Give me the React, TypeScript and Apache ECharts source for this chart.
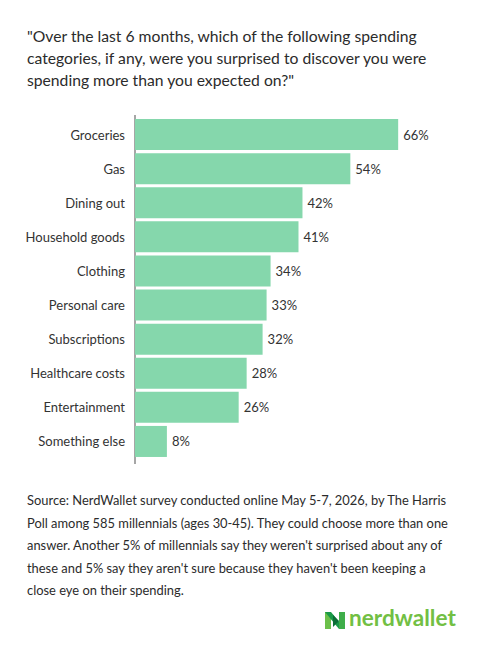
import React, { useEffect, useRef } from "react";
import * as echarts from "echarts";

const categories = [
  "Groceries",
  "Gas",
  "Dining out",
  "Household goods",
  "Clothing",
  "Personal care",
  "Subscriptions",
  "Healthcare costs",
  "Entertainment",
  "Something else",
];
const values = [66, 54, 42, 41, 34, 33, 32, 28, 26, 8];

const titleLines = [
  '"Over the last 6 months, which of the following spending',
  "categories, if any, were you surprised to discover you were",
  'spending more than you expected on?"',
];
const sourceLines = [
  "Source: NerdWallet survey conducted online May 5-7, 2026, by The Harris",
  "Poll among 585 millennials (ages 30-45). They could choose more than one",
  "answer. Another 5% of millennials say they weren't surprised about any of",
  "these and 5% say they aren't sure because they haven't been keeping a",
  "close eye on their spending.",
];

const FONT = "Lato";

export default function App() {
  const ref = useRef<HTMLDivElement>(null);
  useEffect(() => {
    if (!ref.current) return;
    const chart = echarts.init(ref.current, null, { renderer: "svg" });
    chart.setOption({
      animation: false,
      backgroundColor: "#ffffff",
      textStyle: { fontFamily: FONT },
      grid: { left: 135, right: 26, top: 117.5, bottom: 189.5, containLabel: false },
      xAxis: { type: "value", min: 0, max: 80, show: false },
      yAxis: {
        type: "category",
        inverse: true,
        data: categories,
        axisTick: { show: false },
        axisLine: { show: false },
        axisLabel: { margin: 10, fontSize: 13, color: "#333", fontFamily: FONT },
      },
      series: [
        {
          type: "bar",
          data: values,
          barCategoryGap: "9%",
          itemStyle: { color: "#85D7AC" },
          label: {
            show: true,
            position: "right",
            distance: 5,
            formatter: "{c}%",
            fontSize: 13,
            color: "#333",
            fontFamily: FONT,
          },
        },
      ],
      graphic: [
        {
          type: "line",
          shape: { x1: 135, y1: 115, x2: 135, y2: 464 },
          style: { stroke: "#888", lineWidth: 1.5 },
        },
        {
          type: "text",
          left: 27,
          top: 25,
          style: {
            text: titleLines.join("\n"),
            fontSize: 15.7,
            lineHeight: 22,
            fill: "#2b2b2b",
            fontFamily: FONT,
          },
        },
        {
          type: "text",
          left: 27,
          top: 489,
          style: {
            text: sourceLines.join("\n"),
            fontSize: 12.9,
            lineHeight: 22.5,
            fill: "#2b2b2b",
            fontFamily: FONT,
          },
        },
        {
          type: "polygon",
          shape: { points: [[325, 612], [331, 612], [331, 629], [325, 629]] },
          style: { fill: "#6cc04a" },
        },
        {
          type: "polygon",
          shape: { points: [[325, 612], [331, 612], [345, 629], [339, 629]] },
          style: { fill: "#1a9a48" },
        },
        {
          type: "polygon",
          shape: { points: [[339, 612], [345, 612], [345, 629], [339, 629]] },
          style: { fill: "#3fae49" },
        },
        {
          type: "polygon",
          shape: { points: [[333, 615], [339, 621], [333, 627]] },
          style: { fill: "#0b6e35" },
        },
        {
          type: "text",
          left: 349,
          top: 606,
          style: {
            text: "nerdwallet",
            fontSize: 22.6,
            fontWeight: "bold",
            fill: "#72bf44",
            fontFamily: FONT,
          },
        },
      ],
    });
    return () => chart.dispose();
  }, []);
  return (
    <div
      ref={ref}
      style={{ position: "fixed", left: 0, top: 0, width: 480, height: 648 }}
    />
  );
}
